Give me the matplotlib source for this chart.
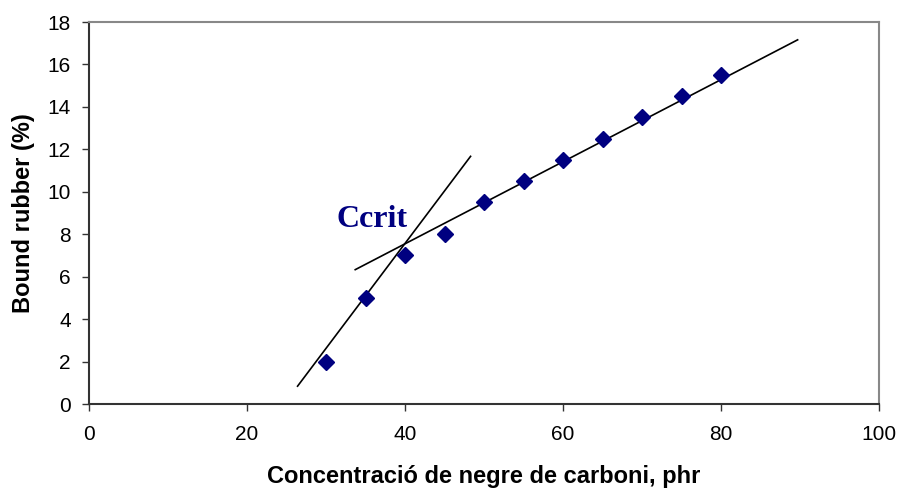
import matplotlib
matplotlib.use("Agg")
import matplotlib.pyplot as plt

# Data
conc = [30, 35, 40, 45, 50, 55, 60, 65, 70, 75, 80]
bound = [2, 5, 7, 8, 9.5, 10.5, 11.5, 12.5, 13.5, 14.5, 15.5]

steep_x = [26.4, 48.3]
steep_y = [0.84, 11.67]
shallow_x = [33.7, 89.7]
shallow_y = [6.33, 17.16]

xticks = [0, 20, 40, 60, 80, 100]
yticks = [0, 2, 4, 6, 8, 10, 12, 14, 16, 18]

plt.rcParams['font.family'] = ['Liberation Sans', 'DejaVu Sans']

fig = plt.figure(figsize=(8.99, 4.94), dpi=100)
ax = fig.add_axes([89/899, 1-404/494, (879-89)/899, (404-22)/494])

ax.plot(steep_x, steep_y, color='black', lw=1.2, zorder=2)
ax.plot(shallow_x, shallow_y, color='black', lw=1.2, zorder=2)
ax.plot(conc, bound, linestyle='none', marker='D', markersize=7.8,
        color='#000080', zorder=3)

ax.text(35.8, 8.7, 'Ccrit', family=['Liberation Serif', 'DejaVu Serif'],
        fontweight='bold', fontsize=23, color='#000080', ha='center', va='center')

ax.set_xlim(0, 100)
ax.set_ylim(0, 18)
ax.set_xticks(xticks)
ax.set_yticks(yticks)
ax.tick_params(axis='x', direction='out', length=5, width=1, pad=10, labelsize=15, colors='#333333', labelcolor='black')
ax.tick_params(axis='y', direction='out', length=5, width=1, pad=8, labelsize=15, colors='#333333', labelcolor='black')

for s in ['left', 'bottom']:
    ax.spines[s].set_color('#333333')
    ax.spines[s].set_linewidth(1.5)
for s in ['top', 'right']:
    ax.spines[s].set_color('#888888')
    ax.spines[s].set_linewidth(1.5)

ax.set_xlabel('Concentració de negre de carboni, phr', fontsize=17, fontweight='bold', labelpad=15)
ax.set_ylabel('Bound rubber (%)', fontsize=17, fontweight='bold', labelpad=9)

fig.savefig('out.png', dpi=100)
